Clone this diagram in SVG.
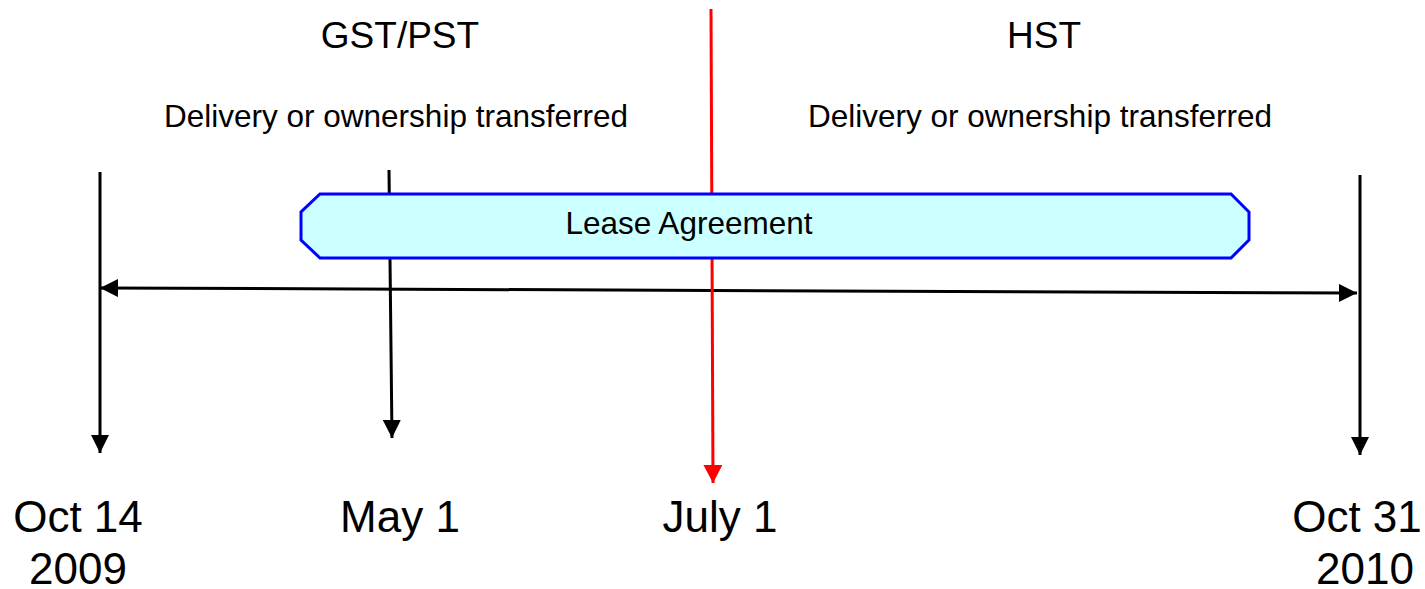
<svg xmlns="http://www.w3.org/2000/svg" width="1425" height="589" viewBox="0 0 1425 589">
<defs>
<style>
text{font-family:"Liberation Sans",Arial,sans-serif;fill:#000}
.hd{font-size:37px}
.sub{font-size:31.5px}
.dt{font-size:44px}
.ln{stroke:#000;stroke-width:3;fill:none}
.red{stroke:#ff0000;stroke-width:3;fill:none}
</style>
<marker id="ah" viewBox="0 0 18 18" refX="18" refY="9" markerWidth="18" markerHeight="18" markerUnits="userSpaceOnUse" orient="auto-start-reverse">
<path d="M0,0 L18,9 L0,18 Z" fill="#000"/>
</marker>
<marker id="ahr" viewBox="0 0 18 19" refX="18" refY="9.5" markerWidth="18" markerHeight="19" markerUnits="userSpaceOnUse" orient="auto">
<path d="M0,0 L18,9.5 L0,19 Z" fill="#ff0000"/>
</marker>
</defs>
<rect width="1425" height="589" fill="#fff"/>
<g id="connectors">
<line class="ln" x1="100" y1="172" x2="100" y2="453" marker-end="url(#ah)"/>
<line class="ln" x1="389" y1="170" x2="392" y2="438" marker-end="url(#ah)"/>
<line class="ln" x1="1360" y1="175" x2="1360" y2="455" marker-end="url(#ah)"/>
<line class="ln" x1="100" y1="288" x2="1357" y2="293" marker-start="url(#ah)" marker-end="url(#ah)"/>
<line class="red" x1="711" y1="9" x2="713" y2="483" marker-end="url(#ahr)"/>
</g>
<g id="lease">
<polygon points="320,194 1231,194 1249,212 1249,240 1231,258 320,258 301,240 301,212" fill="#ccffff" stroke="#0000ff" stroke-width="3"/>
<text class="sub" x="689" y="234" text-anchor="middle">Lease Agreement</text>
</g>
<g id="gst-pst">
<text class="hd" x="400" y="48" text-anchor="middle">GST/PST</text>
<text class="sub" x="396" y="127" text-anchor="middle">Delivery or ownership transferred</text>
</g>
<g id="hst">
<text class="hd" x="1044" y="48" text-anchor="middle">HST</text>
<text class="sub" x="1040" y="127" text-anchor="middle">Delivery or ownership transferred</text>
</g>
<g id="oct14"><text class="dt" x="78" y="532" text-anchor="middle">Oct 14</text><text class="dt" x="78" y="584" text-anchor="middle">2009</text></g>
<g id="may1"><text class="dt" x="400" y="532" text-anchor="middle">May 1</text></g>
<g id="july1"><text class="dt" x="720" y="532" text-anchor="middle">July 1</text></g>
<g id="oct31"><text class="dt" x="1357" y="532" text-anchor="middle">Oct 31</text><text class="dt" x="1365" y="584" text-anchor="middle">2010</text></g>
</svg>
